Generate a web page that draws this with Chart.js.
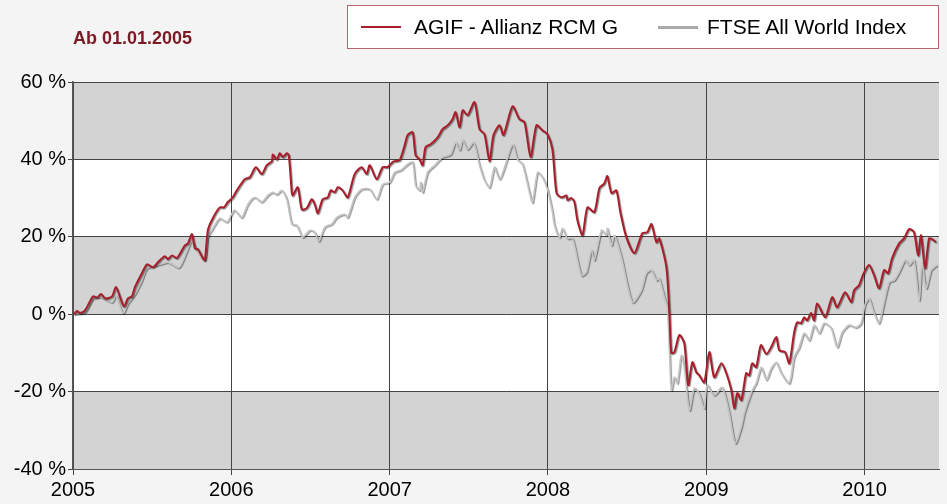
<!DOCTYPE html>
<html lang="de">
<head>
    <meta charset="UTF-8">
    <title>AGIF - Allianz RCM G vs. FTSE All World Index</title>
    <script src="https://cdn.jsdelivr.net/npm/chart.js"></script>
    <style>
        body {
            margin: 0;
            background: #f4f4f4;
            font-family: "Liberation Sans", Arial, sans-serif;
        }
        .wrap {
            position: relative;
            width: 947px;
            height: 504px;
        }
        .subtitle {
            position: absolute;
            left: 73px;
            top: 28px;
            font-size: 18px;
            font-weight: bold;
            color: #7b1a24;
        }
        .legend {
            position: absolute;
            left: 347px;
            top: 5px;
            width: 590px;
            height: 42px;
            background: #fff;
            border: 1px solid #b56670;
            font-size: 21px;
            color: #000;
        }
        .legend .line {
            position: absolute;
            top: 20px;
            width: 40px;
            height: 2px;
        }
        .legend .label {
            position: absolute;
            top: 9px;
            white-space: nowrap;
        }
    </style>
</head>
<body>
<div class="wrap">
    <canvas id="chart" width="947" height="504"></canvas>
    <div class="subtitle">Ab 01.01.2005</div>
    <div class="legend">
        <span class="line" style="left:13px;background:#a81e2a"></span>
        <span class="label" style="left:66px">AGIF - Allianz RCM G</span>
        <span class="line" style="left:310px;background:#aaa;height:3px"></span>
        <span class="label" style="left:359px">FTSE All World Index</span>
    </div>
</div>

<script>
    // year ticks and percent ticks
    const years = [2005, 2006, 2007, 2008, 2009, 2010];
    const yTicks = [-40, -20, 0, 20, 40, 60];

    // AGIF - Allianz RCM G (x = decimal year, y = % since 01.01.2005)
    const agifX = [2005.006, 2005.025, 2005.044, 2005.076, 2005.126, 2005.151, 2005.177, 2005.202, 2005.246, 2005.271,
        2005.297, 2005.322, 2005.347, 2005.372, 2005.391, 2005.435, 2005.467, 2005.505, 2005.536, 2005.580,
        2005.599, 2005.625, 2005.656, 2005.707, 2005.726, 2005.751, 2005.770, 2005.789, 2005.820, 2005.833,
        2005.852, 2005.883, 2005.927, 2005.953, 2005.978, 2006.009, 2006.035, 2006.085, 2006.117, 2006.155,
        2006.192, 2006.224, 2006.256, 2006.262, 2006.287, 2006.306, 2006.325, 2006.350, 2006.363, 2006.382,
        2006.388, 2006.420, 2006.445, 2006.476, 2006.508, 2006.527, 2006.546, 2006.577, 2006.609, 2006.628,
        2006.653, 2006.672, 2006.703, 2006.735, 2006.779, 2006.823, 2006.855, 2006.874, 2006.918, 2006.956,
        2006.987, 2007.025, 2007.063, 2007.095, 2007.114, 2007.145, 2007.164, 2007.189, 2007.208, 2007.227,
        2007.259, 2007.303, 2007.334, 2007.366, 2007.397, 2007.416, 2007.442, 2007.461, 2007.492, 2007.536,
        2007.568, 2007.599, 2007.631, 2007.656, 2007.694, 2007.719, 2007.776, 2007.820, 2007.852, 2007.890,
        2007.927, 2007.965, 2007.997, 2008.028, 2008.054, 2008.085, 2008.117, 2008.123, 2008.148, 2008.167,
        2008.186, 2008.218, 2008.249, 2008.293, 2008.325, 2008.356, 2008.375, 2008.401, 2008.432, 2008.457,
        2008.495, 2008.546, 2008.596, 2008.628, 2008.653, 2008.685, 2008.703, 2008.748, 2008.767, 2008.779,
        2008.798, 2008.830, 2008.861, 2008.886, 2008.912, 2008.937, 2008.956, 2008.987, 2009.019, 2009.050,
        2009.095, 2009.126, 2009.158, 2009.177, 2009.196, 2009.221, 2009.252, 2009.271, 2009.290, 2009.315,
        2009.345, 2009.379, 2009.410, 2009.442, 2009.461, 2009.498, 2009.524, 2009.555, 2009.574, 2009.599,
        2009.618, 2009.637, 2009.662, 2009.681, 2009.700, 2009.751, 2009.795, 2009.826, 2009.877, 2009.915,
        2009.934, 2009.965, 2009.991, 2010.028, 2010.060, 2010.091, 2010.123, 2010.148, 2010.174, 2010.218,
        2010.249, 2010.281, 2010.312, 2010.338, 2010.356, 2010.382, 2010.407, 2010.426, 2010.451];
    const agifY = [0, 0.8, 0.3, 1, 4.6, 4.3, 5.2, 4.1, 4.6, 7,
        4.4, 2, 4.1, 4.6, 7, 10.6, 12.9, 12.1, 13.4, 15,
        14.2, 15.2, 14.5, 17.8, 18.3, 20.7, 17, 16.8, 14.5, 14,
        21.7, 24.8, 27.6, 27.6, 29, 30.2, 32, 34.9, 35.4, 38,
        36.2, 38.5, 39.5, 41.3, 40, 41.6, 40.6, 41.6, 41.1, 31.5,
        30.7, 32.8, 27.1, 27.4, 29.7, 28.4, 26.1, 29.7, 30.2, 32,
        31.5, 32.8, 32, 30.2, 36.2, 38, 36.2, 38.5, 34.9, 38,
        38, 39.5, 39.8, 43.7, 46.3, 47, 41.1, 40, 38.5, 43.2,
        43.9, 45.7, 47.8, 48.8, 50.4, 52.2, 48.3, 52.7, 51.4, 54.8,
        47.8, 46.5, 39.5, 46.3, 48.8, 46.3, 53.7, 50.4, 49.6, 40.6,
        48.8, 47.5, 46.5, 42.6, 31.3, 30.2, 30.7, 29.5, 30, 29,
        24.3, 20.4, 27.6, 26.4, 32.6, 33.8, 35.7, 31.3, 32, 26.4,
        19.9, 15.8, 20.9, 21.2, 23.3, 18.6, 19.6, 12.1, 0.3, -10,
        -9.8, -5.4, -7.5, -18.3, -12.4, -15, -15.8, -17.6, -9.8, -16.3,
        -12.7, -15.2, -19.6, -24.3, -20.4, -22.2, -15.2, -15.8, -12.7, -13.7,
        -8, -10.3, -8.5, -5.9, -9.3, -9.8, -12.7, -4.7, -2.1, -2.3,
        -0.8, -1.6, 0.3, -1.6, 2.8, -0.8, 4.4, 1.8, 5.7, 3.1,
        6.2, 7.5, 10.3, 12.7, 10.1, 6.7, 11.4, 10.6, 14.5, 18.3,
        19.6, 22, 21.2, 15.2, 20.4, 11.9, 19.6, 19.4, 18.6];

    // FTSE All World Index
    const ftseX = [2005.006, 2005.076, 2005.126, 2005.177, 2005.246, 2005.271, 2005.315, 2005.347, 2005.391, 2005.435,
        2005.467, 2005.536, 2005.599, 2005.669, 2005.726, 2005.751, 2005.789, 2005.833, 2005.852, 2005.883,
        2005.927, 2005.972, 2006.009, 2006.022, 2006.066, 2006.104, 2006.148, 2006.192, 2006.230, 2006.262,
        2006.287, 2006.319, 2006.350, 2006.382, 2006.413, 2006.451, 2006.495, 2006.527, 2006.552, 2006.590,
        2006.634, 2006.666, 2006.716, 2006.735, 2006.779, 2006.823, 2006.874, 2006.918, 2006.956, 2007.000,
        2007.032, 2007.069, 2007.114, 2007.145, 2007.164, 2007.189, 2007.196, 2007.208, 2007.240, 2007.284,
        2007.334, 2007.385, 2007.416, 2007.442, 2007.461, 2007.492, 2007.530, 2007.568, 2007.599, 2007.631,
        2007.662, 2007.694, 2007.726, 2007.776, 2007.808, 2007.839, 2007.883, 2007.902, 2007.934, 2007.965,
        2007.997, 2008.028, 2008.041, 2008.073, 2008.091, 2008.123, 2008.155, 2008.211, 2008.243, 2008.274,
        2008.293, 2008.338, 2008.369, 2008.375, 2008.401, 2008.420, 2008.464, 2008.533, 2008.590, 2008.621,
        2008.653, 2008.685, 2008.703, 2008.735, 2008.754, 2008.767, 2008.779, 2008.798, 2008.817, 2008.842,
        2008.861, 2008.893, 2008.924, 2008.956, 2008.987, 2009.006, 2009.050, 2009.101, 2009.145, 2009.183,
        2009.221, 2009.240, 2009.284, 2009.315, 2009.347, 2009.379, 2009.410, 2009.442, 2009.473, 2009.524,
        2009.555, 2009.587, 2009.618, 2009.650, 2009.681, 2009.713, 2009.744, 2009.789, 2009.826, 2009.858,
        2009.902, 2009.946, 2009.978, 2010.003, 2010.028, 2010.060, 2010.091, 2010.123, 2010.155, 2010.186,
        2010.218, 2010.256, 2010.281, 2010.312, 2010.344, 2010.363, 2010.388, 2010.420, 2010.438, 2010.457];
    const ftseY = [0, 0.5, 4, 4.4, 3.1, 4.9, 0.3, 2.8, 5.2, 8.8,
        11.9, 12.7, 13.4, 12.1, 17, 19, 16, 14, 20, 22.2,
        24.8, 23.8, 26.4, 26.9, 25, 28.4, 30.2, 29, 30.7, 31.5,
        31, 32, 29.7, 23.3, 23, 19.9, 21.7, 21.2, 18.9, 22.5,
        23.3, 25, 25.8, 25, 30.2, 32.3, 32.3, 29.7, 33.6, 34.1,
        36.7, 37.2, 38.8, 39.3, 33.3, 32, 34.1, 31.5, 36.7, 38.5,
        40.6, 41.3, 44.4, 42.4, 45, 42.6, 44.4, 38.5, 34.6, 32.8,
        38, 34.9, 38, 43.9, 40, 38.8, 31.5, 28.9, 36.7, 35.4,
        32.3, 26.4, 23, 19.9, 22.2, 19.6, 19.6, 10, 10.9, 16.5,
        14, 21.7, 20.4, 22.2, 17.8, 20.4, 14.7, 3.1, 6.2, 10.6,
        11.4, 8.8, 9.3, 4.4, 1.8, -9.3, -19.6, -16.3, -17.8, -10.6,
        -13.7, -24.8, -19.1, -20.6, -24.3, -18.3, -20.9, -18.9, -25.6, -33.3,
        -29.2, -25.6, -20.2, -17.8, -13.7, -17, -14, -12.4, -15.2, -17.8,
        -11.1, -8.5, -4.9, -6.7, -2.8, -4.9, -2.3, -3.6, -8.5, -4.7,
        -2.8, -3.4, -2.3, 2.5, 4.1, 0.3, -2.3, 3.1, 8.3, 8.8,
        10.9, 14, 12.7, 14, 3.6, 13.4, 6.7, 11.4, 12.1, 12.7];

    const toPoints = (xs, ys) => xs.map((x, i) => ({ x: x, y: ys[i] }));

    // alternating grey / white bands behind the plot
    const bandsPlugin = {
        id: "bands",
        beforeDraw(chart) {
            const { ctx, chartArea: a, scales } = chart;
            ctx.save();
            ctx.fillStyle = "#f4f4f4";
            ctx.fillRect(0, 0, chart.width, chart.height);
            ctx.fillStyle = "#ffffff";
            ctx.fillRect(a.left, a.top, a.right - a.left, a.bottom - a.top);
            ctx.fillStyle = "#d3d3d3";
            [[40, 60], [0, 20], [-40, -20]].forEach(([lo, hi]) => {
                const y1 = scales.y.getPixelForValue(hi);
                const y2 = scales.y.getPixelForValue(lo);
                ctx.fillRect(a.left, y1, a.right - a.left, y2 - y1);
            });
            ctx.restore();
        }
    };

    // soft dark edge under the lines
    const shadowPlugin = {
        id: "lineShadow",
        beforeDatasetDraw(chart) {
            const ctx = chart.ctx;
            ctx.save();
            ctx.shadowColor = "rgba(0,0,0,0.45)";
            ctx.shadowOffsetX = 1;
            ctx.shadowOffsetY = 1;
            ctx.shadowBlur = 1;
        },
        afterDatasetDraw(chart) {
            chart.ctx.restore();
        }
    };

    const tickFont = { family: "'Liberation Sans', Arial, sans-serif", size: 20 };

    new Chart(document.getElementById("chart"), {
        type: "line",
        data: {
            datasets: [
                {
                    label: "AGIF - Allianz RCM G",
                    data: toPoints(agifX, agifY),
                    borderColor: "#a81e2a",
                    borderWidth: 2,
                    pointRadius: 0,
                    tension: 0.25
                },
                {
                    label: "FTSE All World Index",
                    data: toPoints(ftseX, ftseY),
                    borderColor: "#c4c4c4",
                    borderWidth: 1.5,
                    pointRadius: 0,
                    tension: 0.25
                }
            ]
        },
        options: {
            responsive: false,
            animation: false,
            devicePixelRatio: 1,
            layout: { padding: { top: 82, right: 8, bottom: 0, left: 0 } },
            plugins: {
                legend: { display: false },
                tooltip: { enabled: false }
            },
            scales: {
                x: {
                    type: "linear",
                    min: 2005,
                    max: 2010.47,
                    afterBuildTicks: (scale) => { scale.ticks = years.map(v => ({ value: v })); },
                    afterFit: (scale) => { scale.height = 35; },
                    ticks: {
                        callback: (v) => String(v),
                        color: "#000",
                        font: tickFont,
                        padding: 3,
                        maxRotation: 0
                    },
                    grid: { color: "#444", tickLength: 6 },
                    border: { color: "#555", width: 1 }
                },
                y: {
                    min: -40,
                    max: 60,
                    afterBuildTicks: (scale) => { scale.ticks = yTicks.map(v => ({ value: v })); },
                    afterFit: (scale) => { scale.width = 73; },
                    ticks: {
                        callback: (v) => v + " %",
                        color: "#000",
                        font: tickFont,
                        padding: 2
                    },
                    grid: { color: "#444", tickLength: 5 },
                    border: { color: "#555", width: 1.5 }
                }
            }
        },
        plugins: [bandsPlugin, shadowPlugin]
    });
</script>
</body>
</html>
